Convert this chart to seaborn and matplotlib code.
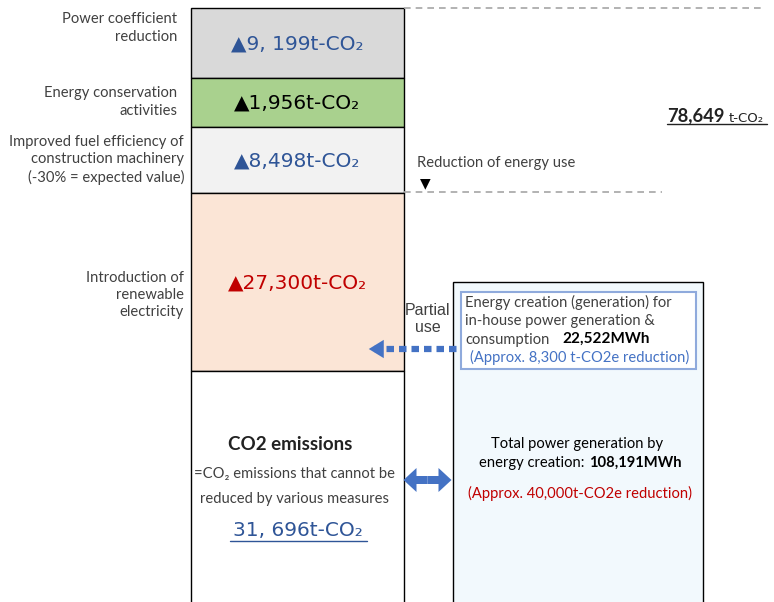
import matplotlib
matplotlib.use("Agg")
import matplotlib.pyplot as plt
import seaborn as sns
from matplotlib.patches import Rectangle

# 1. DATA
# reduction measures, top to bottom, with the remaining emissions last
measures = ["Power coefficient\nreduction",
            "Energy conservation\nactivities",
            "Improved fuel efficiency of\nconstruction machinery\n(-30% = expected value)",
            "Introduction of\nrenewable\nelectricity",
            "CO2 emissions"]
values_t = [9199, 1956, 8498, 27300, 31696]
value_labels = ["▲9, 199t-CO₂", "▲1,956t-CO₂", "▲8,498t-CO₂", "▲27,300t-CO₂", "31, 696t-CO₂"]
total_label = "78,649"
in_house_mwh = "22,522MWh"
in_house_note = "(Approx. 8,300 t-CO2e reduction)"
total_gen_mwh = "108,191MWh"
total_gen_note = "(Approx. 40,000t-CO2e reduction)"

# 2. LAYOUT (the diagram is not drawn to scale, box sizes)
box_px = [70, 49, 66, 178, 240]
box_colors = ["#d9d9d9", "#a9d18e", "#f2f2f2", "#fbe5d6", "#ffffff"]
value_colors = ["#2f5597", "#000000", "#2f5597", "#c00000", "#2f5597"]
label_y = [28, 102, 160, 295]
label_right = [177, 177, 184, 184]

sns.set_theme(style="white")
plt.rcParams["font.family"] = ["Lato", "DejaVu Sans"]

fig = plt.figure(figsize=(7.74, 6.02), dpi=100)
ax = fig.add_axes([0, 0, 1, 1])

# 3. STACKED COLUMN (one seaborn bar per segment)
top = 8
bottoms = []
for h, c in zip(box_px, box_colors):
    bottoms.append(top)
    sns.barplot(x=["stack"], y=[h], bottom=top, color=c, edgecolor="black",
                linewidth=1, width=0.8, errorbar=None, saturation=1, ax=ax)
    top += h

# bar spans pixels 191..404
px = 213 / 0.8
ax.set_xlim(-0.4 - 191 / px, 0.4 + (774 - 404) / px)
ax.set_ylim(602, 0)
ax.set_axis_off()

# overlay in pixel coordinates for the annotations
ov = fig.add_axes([0, 0, 1, 1])
ov.set_xlim(0, 774)
ov.set_ylim(602, 0)
ov.set_axis_off()
ov.patch.set_alpha(0)

grey_txt = "#404040"
val_font = ["DejaVu Sans"]
fs = 10.6

# left labels
for lab, y, xr in zip(measures[:4], label_y, label_right):
    ov.text(xr, y, lab, ha="right", va="center", fontsize=fs, color=grey_txt,
            linespacing=1.3)

# values inside the segments
for i in range(4):
    yc = bottoms[i] + box_px[i] / 2
    ov.text(297, yc + 1, value_labels[i], ha="center", va="center", fontsize=14.5,
            color=value_colors[i], family=val_font)

# remaining emissions box
ov.text(290, 445, measures[4], ha="center", va="center", fontsize=13.5,
        fontweight="bold", color="#222222")
ov.text(294, 474, "=CO₂ emissions that cannot be", ha="center", va="center",
        fontsize=fs, color=grey_txt)
ov.text(294, 499, "reduced by various measures", ha="center", va="center",
        fontsize=fs, color=grey_txt)
ov.text(298, 531, value_labels[4], ha="center", va="center", fontsize=14.5,
        color=value_colors[4], family=val_font)
ov.plot([230, 367], [541, 541], color=value_colors[4], lw=1)

# dashed guides and total
ov.plot([404, 764], [8, 8], color="#a6a6a6", lw=1.2, ls=(0, (4, 3)))
ov.plot([404, 662], [192, 192], color="#a6a6a6", lw=1.2, ls=(0, (4, 3)))
ov.annotate("", xy=(775, 8), xytext=(775, 600),
            arrowprops=dict(arrowstyle="<->", color="black", lw=1))
ov.text(667, 116, total_label, ha="left", va="center", fontsize=13.2,
        fontweight="bold", color="#222222")
ov.text(729, 118, "t-CO₂", ha="left", va="center", fontsize=9.5,
        color="#222222", family=val_font)
ov.plot([667, 767], [124, 124], color="#222222", lw=1)

ov.text(417, 163, "Reduction of energy use", ha="left", va="center",
        fontsize=fs, color=grey_txt)
ov.text(425, 183, "▼", ha="center", va="center", fontsize=10, color="black",
        family=["DejaVu Sans"])

# energy creation panel
ov.add_patch(Rectangle((453, 282), 250, 340, facecolor="#f2f9fd",
                       edgecolor="black", lw=1))
ov.add_patch(Rectangle((461, 292), 235, 77, facecolor="white",
                       edgecolor="#8faadc", lw=1.5))
ov.text(465, 302, "Energy creation (generation) for", ha="left", va="center",
        fontsize=fs, color=grey_txt)
ov.text(465, 321, "in-house power generation &", ha="left", va="center",
        fontsize=fs, color=grey_txt)
ov.text(465, 340, "consumption", ha="left", va="center", fontsize=fs,
        color=grey_txt)
ov.text(562, 339, in_house_mwh, ha="left", va="center", fontsize=11,
        fontweight="bold", color="black")
ov.text(470, 357, in_house_note, ha="left", va="center", fontsize=fs,
        color="#4472c4")

ov.text(577, 444, "Total power generation by", ha="center", va="center",
        fontsize=fs, color="black")
ov.text(588, 463, "energy creation: ", ha="right", va="center", fontsize=fs,
        color="black")
ov.text(589, 463, total_gen_mwh, ha="left", va="center", fontsize=fs,
        fontweight="bold", color="black")
ov.text(580, 493, total_gen_note, ha="center", va="center", fontsize=fs,
        color="#c00000")

# partial use arrow
ov.plot([374, 461], [349, 349], color="#4472c4", lw=4.5, ls=(0, (1.2, 0.8)),
        solid_capstyle="butt", dash_capstyle="butt")
ov.annotate("", xy=(366, 349), xytext=(380, 349),
            arrowprops=dict(arrowstyle="-|>,head_length=0.9,head_width=0.55",
                            color="#4472c4", lw=0))
ov.text(428, 319, "Partial\nuse", ha="center", va="center", fontsize=11.5,
        color=grey_txt, family=["Liberation Sans"], linespacing=1.1)

# two way arrow between the boxes
for dx in (-24, 24):
    ov.arrow(427.5, 480, dx, 0, width=8, head_width=24, head_length=13,
             length_includes_head=True, color="#4472c4", lw=0)

plt.savefig("out.png", dpi=100)
